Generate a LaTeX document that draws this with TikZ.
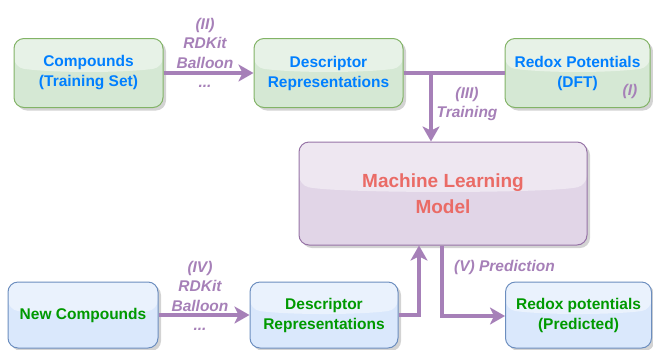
\documentclass[tikz,border=0pt]{standalone}
\usepackage{fontspec}
\setmainfont{Liberation Sans}
\usetikzlibrary{arrows.meta,shadows,calc}

\definecolor{grfill}{HTML}{D5E8D4}
\definecolor{grline}{HTML}{82B366}
\definecolor{blfill}{HTML}{DAE8FC}
\definecolor{blline}{HTML}{6C8EBF}
\definecolor{pufill}{HTML}{E1D5E7}
\definecolor{puline}{HTML}{9673A6}
\definecolor{arrowpu}{HTML}{A680B8}
\definecolor{txtblue}{HTML}{007FFF}
\definecolor{txtgreen}{HTML}{009900}
\definecolor{txtred}{HTML}{EA6B66}

\tikzset{
  glassbox/.style={draw=#1line, fill=#1fill, line width=1pt,
    rounded corners=10pt, align=center, inner sep=2pt,
    font=\bfseries\fontsize{15.5}{20}\selectfont,
    drop shadow={shadow xshift=3pt, shadow yshift=-3pt, opacity=0.35, fill=gray},
    path picture={
      \fill[white, opacity=0.45]
        (path picture bounding box.north west)
        -- ($(path picture bounding box.north west)!0.42!(path picture bounding box.south west)$)
        .. controls ($(path picture bounding box.north west)!0.50!(path picture bounding box.south west)+(40pt,0)$)
        and ($(path picture bounding box.north east)!0.50!(path picture bounding box.south east)+(-40pt,0)$)
        .. ($(path picture bounding box.north east)!0.42!(path picture bounding box.south east)$)
        -- (path picture bounding box.north east) -- cycle;
    }},
  flow/.style={draw=arrowpu, line width=3.5pt},
  flowarrow/.style={flow, -{Stealth[length=15pt,width=17pt,inset=4pt]}},
  steplabel/.style={text=arrowpu, align=center,
    font=\bfseries\itshape\fontsize{15.5}{19.5}\selectfont}
}

\begin{document}
\begin{tikzpicture}[x=1pt, y=-1pt]
  \useasboundingbox (0,0) rectangle (653,349);

  % training branch
  \node[glassbox=gr, text=txtblue, minimum width=149pt, minimum height=69pt]
    (comp) at (88.5,73) {Compounds\\(Training Set)};
  \node[glassbox=gr, text=txtblue, minimum width=149pt, minimum height=69pt]
    (descT) at (328.5,73) {Descriptor\\Representations};
  \node[glassbox=gr, text=txtblue, minimum width=145pt, minimum height=69pt]
    (redox) at (577.5,73) {Redox Potentials\\(DFT)};

  % model
  \node[glassbox=pu, text=txtred, minimum width=288pt, minimum height=103pt,
        font=\bfseries\fontsize{19}{26}\selectfont]
    (ml) at (443,193.5) {Machine Learning\\Model};

  % prediction branch
  \node[glassbox=bl, text=txtgreen, minimum width=150pt, minimum height=66pt]
    (newc) at (83,315) {New Compounds};
  \node[glassbox=bl, text=txtgreen, minimum width=148pt, minimum height=66pt]
    (descB) at (324,315) {Descriptor\\Representations};
  \node[glassbox=bl, text=txtgreen, minimum width=146pt, minimum height=66pt]
    (pred) at (578.5,315) {Redox potentials\\(Predicted)};

  % connectors
  \draw[flowarrow] (comp.east) -- (descT.west);
  \draw[flow] (descT.east) -- (redox.west);
  \coordinate (join) at (431,73);
  \draw[flowarrow] (join) -- (join |- ml.north);

  \draw[flowarrow] (newc.east) -- (descB.west);
  \coordinate (up) at (419,315);
  \draw[flowarrow] (descB.east) -- (up) -- (up |- ml.south);
  \coordinate (down) at (442,316);
  \draw[flowarrow] (down |- ml.south) -- (down) -- (pred.west |- down);

  % step labels
  \node[steplabel] (l2) at (205,53) {(II)\\RDKit\\Balloon\\...};
  \node[steplabel] (l3) at (467,104) {(III)\\Training};
  \node[steplabel] (l1) at (630,91) {(I)};
  \node[steplabel] (l4) at (200,296) {(IV)\\RDKit\\Balloon\\...};
  \node[steplabel] (l5) at (504.5,267) {(V) Prediction};
\end{tikzpicture}
\end{document}
